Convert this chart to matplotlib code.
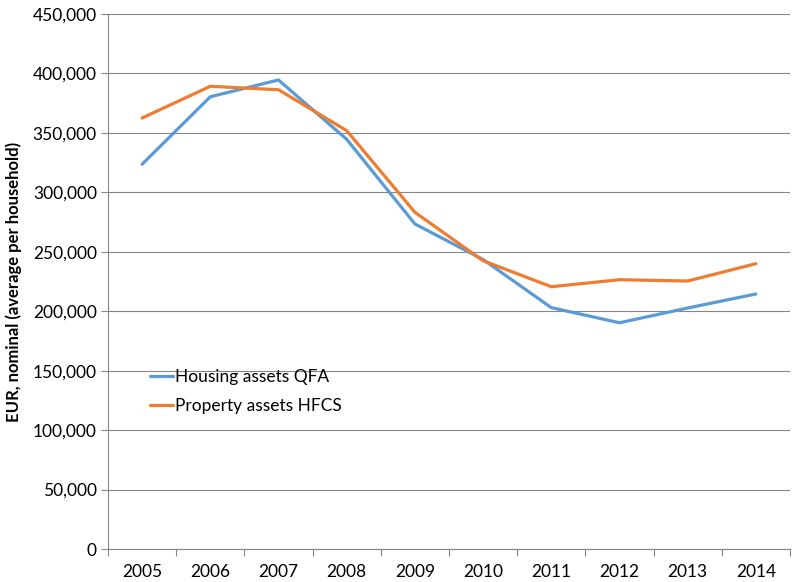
import matplotlib
matplotlib.use("Agg")
from matplotlib import pyplot as plt
import matplotlib.ticker as ticker
import numpy as np

years = [2005, 2006, 2007, 2008, 2009, 2010, 2011, 2012, 2013, 2014]
housing_qfa = [323600, 380400, 394500, 344600, 273400, 243500, 203000, 190300, 202700, 214500]
property_hfcs = [362500, 389200, 386300, 351900, 283200, 242500, 220600, 226500, 225400, 240000]

plt.rcParams['font.family'] = ['Lato', 'DejaVu Sans']
grid_col = '#868686'

fig = plt.figure(figsize=(7.95, 5.82), dpi=100)
ax = fig.add_axes([108/795, 1 - 549/582, (790 - 108)/795, (549 - 14)/582])

x = np.arange(len(years))
ax.plot(x, housing_qfa, color='#5B9BD5', lw=2.3, label='Housing assets QFA', solid_capstyle='round')
ax.plot(x, property_hfcs, color='#ED7D31', lw=2.3, label='Property assets HFCS', solid_capstyle='round')

ax.set_xlim(-0.5, len(years) - 0.5)
ax.set_ylim(0, 450000)
ax.yaxis.set_major_locator(ticker.MultipleLocator(50000))
ax.yaxis.set_major_formatter(ticker.FuncFormatter(lambda v, p: f'{int(v):,}'))
ax.grid(axis='y', color=grid_col, lw=0.8)
ax.set_axisbelow(True)

ax.set_xticks(x)
ax.set_xticklabels([str(y) for y in years])
ax.set_xticks(np.arange(-0.5, len(years)), minor=True)
ax.tick_params(axis='x', which='major', length=0, pad=11, labelsize=12.5)
ax.tick_params(axis='x', which='minor', length=5, color=grid_col, width=0.8)
ax.tick_params(axis='y', length=5, color=grid_col, width=0.8, labelsize=12.5, pad=3)

for s in ['top', 'right']:
    ax.spines[s].set_visible(False)
for s in ['left', 'bottom']:
    ax.spines[s].set_color(grid_col)
    ax.spines[s].set_linewidth(0.8)

ax.set_ylabel('EUR, nominal (average per household)', fontweight='bold', fontsize=12, labelpad=8)

ax.legend(loc='upper left', bbox_to_anchor=(0.052, 0.35), frameon=False, fontsize=12.5,
          handlelength=1.3, handletextpad=0.12, labelspacing=0.75, borderaxespad=0)

fig.savefig('out.png', dpi=100)
